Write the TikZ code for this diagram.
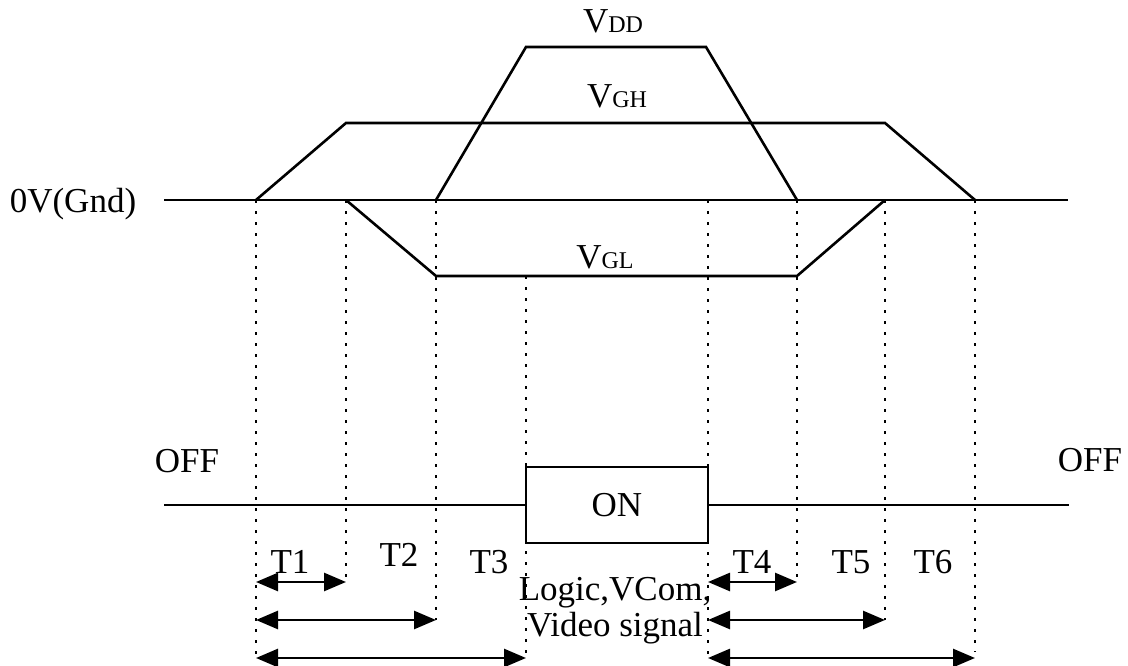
\documentclass[tikz,border=0pt]{standalone}
\usepackage{fontspec}
\setmainfont{Liberation Serif}
\usepackage{tikz}
\usetikzlibrary{arrows.meta}
\usetikzlibrary{calc}
\tikzstyle{level} = [draw, line width=2.6pt, line join=miter]
\tikzstyle{dotline} = [draw, line width=2.6pt, dash pattern=on 3pt off 8pt]
\tikzstyle{span} = [draw, line width=2.6pt,
    {Triangle[length=22pt,width=18pt]}-{Triangle[length=22pt,width=18pt]}]
\tikzstyle{lbl} = [inner sep=0pt, anchor=base, font=\fontsize{35}{40}\selectfont]
\tikzstyle{onbox} = [draw, line width=2.6pt, rectangle, inner sep=0pt,
    minimum width=182pt, minimum height=76pt, font=\fontsize{35}{40}\selectfont]
\newcommand{\vlevel}[1]{V{\fontsize{24}{24}\selectfont #1}}

\begin{document}
\begin{tikzpicture}[x=1pt, y=-1pt]
    \useasboundingbox (0,0) rectangle (1128,666);
    % We start by placing the time marks on the ground line
    \coordinate (gndL) at (164,200);
    \coordinate (gndR) at (1068,200);
    \foreach \n/\x in {a/256, b/346, c/436, e/708, f/797, g/885, h/975}
        \coordinate (\n) at (\x,200);
    \coordinate (ghA) at (346,123);
    \coordinate (ghB) at (885,123);
    \coordinate (ddA) at (526,47);
    \coordinate (ddB) at (706,47);
    \coordinate (glA) at (436,276);
    \coordinate (glB) at (797,276);
    \coordinate (d) at (526,276);

    % Supply levels
    \draw [level] (gndL) -- (gndR);
    \draw [level] (a) -- (ghA) -- (ghB) -- (h);
    \draw [level] (c) -- (ddA) -- (ddB) -- (f);
    \draw [level] (b) -- (glA) -- (glB) -- (g);
    \node [lbl] (vdd) at (613,33) {\vlevel{DD}};
    \node [lbl] (vgh) at (617,108) {\vlevel{GH}};
    \node [lbl] (vgl) at (605,268) {\vlevel{GL}};
    \node [lbl] (gnd) at (73,212) {0V(Gnd)};

    % Dotted time marks
    \draw [dotline] (a) -- ($(a)+(0,458)$);
    \draw [dotline] (b) -- ($(b)+(0,378)$);
    \draw [dotline] (c) -- ($(c)+(0,420)$);
    \draw [dotline] (d) -- ($(d)+(0,380)$);
    \draw [dotline] (e) -- ($(e)+(0,456)$);
    \draw [dotline] (f) -- ($(f)+(0,378)$);
    \draw [dotline] (g) -- ($(g)+(0,420)$);
    \draw [dotline] (h) -- ($(h)+(0,452)$);

    % Signal line with the ON window
    \node [onbox, fill=white] (on) at (617,505) {ON};
    \coordinate (sigL) at (164,505);
    \coordinate (sigR) at (1069,505);
    \draw [level] (sigL) -- (on.west);
    \draw [level] (on.east) -- (sigR);
    \node [lbl] (offL) at (187,472) {OFF};
    \node [lbl] (offR) at (1090,471) {OFF};
    \node [lbl] (logic) at (615,600) {Logic,VCom,};
    \node [lbl] (video) at (615,636) {Video signal};

    % Timing intervals
    \coordinate (a1) at (256,582); \coordinate (b1) at (346,582);
    \coordinate (a2) at (256,620); \coordinate (c2) at (436,620);
    \coordinate (a3) at (256,658); \coordinate (d3) at (526,658);
    \coordinate (e1) at (708,582); \coordinate (f1) at (797,582);
    \coordinate (e2) at (708,620); \coordinate (g2) at (885,620);
    \coordinate (e3) at (708,658); \coordinate (h3) at (975,658);
    \draw [span] (a1) -- (b1);
    \draw [span] (a2) -- (c2);
    \draw [span] (a3) -- (d3);
    \draw [span] (e1) -- (f1);
    \draw [span] (e2) -- (g2);
    \draw [span] (e3) -- (h3);
    \node [lbl] (t1) at (290,573) {T1};
    \node [lbl] (t2) at (399,566) {T2};
    \node [lbl] (t3) at (489,573) {T3};
    \node [lbl] (t4) at (752,573) {T4};
    \node [lbl] (t5) at (851,573) {T5};
    \node [lbl] (t6) at (933,573) {T6};
\end{tikzpicture}
\end{document}
